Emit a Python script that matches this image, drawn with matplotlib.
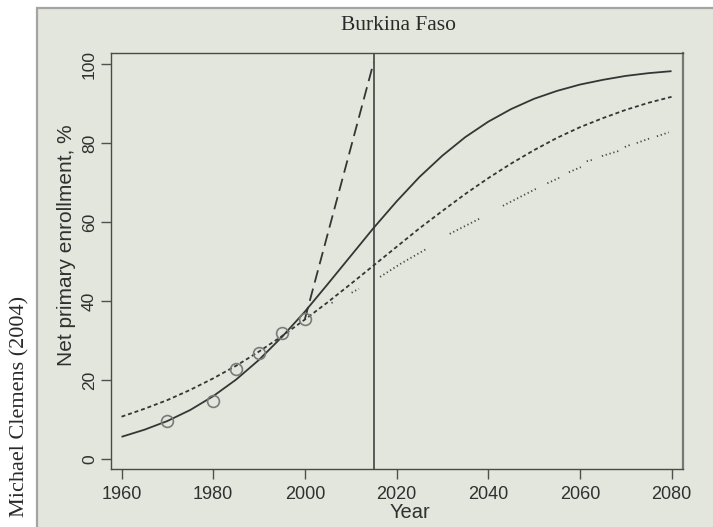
import numpy as np
import matplotlib
matplotlib.use("Agg")
import matplotlib.pyplot as plt
from matplotlib.patches import Rectangle

# ---------------------------------------------------------------------------
# Data
# ---------------------------------------------------------------------------
OBS_YEARS = [1970, 1980, 1985, 1990, 1995, 2000]
OBS_ENROLL = [9.7, 14.8, 23.0, 27.0, 31.9, 35.5]

CURVE_YEARS = [1960, 1965, 1970, 1975, 1980, 1985, 1990, 1995, 2000, 2005, 2010,
               2015, 2020, 2025, 2030, 2035, 2040, 2045, 2050, 2055, 2060, 2065,
               2070, 2075, 2080]
# solid curve
SOLID_ENROLL = [5.7, 7.5, 9.7, 12.5, 16.0, 20.2, 25.2, 31.0, 37.4, 44.4, 51.5,
                58.6, 65.3, 71.5, 76.9, 81.6, 85.5, 88.7, 91.3, 93.3, 94.9, 96.1,
                97.1, 97.8, 98.3]
# short-dash curve
DASH_ENROLL = [10.8, 12.8, 15.0, 17.6, 20.5, 23.7, 27.3, 31.2, 35.4, 39.8, 44.4,
               49.1, 53.8, 58.5, 62.9, 67.2, 71.2, 74.9, 78.3, 81.4, 84.1, 86.4,
               88.5, 90.3, 91.8]

# long-dash line (required pace to reach 100% by 2015)
TARGET_YEARS = [2000, 2015]
TARGET_ENROLL = [35.5, 100.5]

# dotted line, drawn in broken pieces as in the original (nan = gap)
DOT_YEARS = [2005.8, 2006.6, np.nan,
             2010.2, 2011.8, np.nan,
             2016.4, 2021.0, 2026.4, np.nan,
             2031.6, 2038.2, np.nan,
             2043.2, 2050.6, np.nan,
             2052.9, 2055.5, np.nan,
             2057.6, 2060.2, np.nan,
             2061.5, 2062.6, np.nan,
             2064.8, 2068.5, np.nan,
             2069.8, 2070.9, np.nan,
             2072.4, 2075.3, np.nan,
             2076.8, 2079.4]
DOT_ENROLL = [39.6, 40.0, np.nan,
              42.2, 43.2, np.nan,
              46.2, 49.6, 53.2, np.nan,
              57.1, 61.0, np.nan,
              64.2, 68.6, np.nan,
              69.9, 71.3, np.nan,
              72.7, 74.0, np.nan,
              75.5, 75.8, np.nan,
              76.8, 78.1, np.nan,
              79.1, 79.6, np.nan,
              80.1, 81.3, np.nan,
              81.8, 82.8]

MARK_YEAR = 2015
X_TICKS = [1960, 1980, 2000, 2020, 2040, 2060, 2080]
Y_TICKS = [0, 20, 40, 60, 80, 100]

PANEL_BG = "#e3e6dc"
INK = "#353535"

SANS = ["Liberation Sans", "DejaVu Sans"]
SERIF = ["Liberation Serif", "DejaVu Serif"]

W, H = 713, 527
fig = plt.figure(figsize=(W / 100, H / 100), dpi=100)
fig.patch.set_facecolor("white")

# grey panel with a border on top and left (right/bottom run off the canvas)
panel = Rectangle((37 / W, -0.05), 1.2, 1.05 - 8 / H, transform=fig.transFigure,
                  facecolor=PANEL_BG, edgecolor="#a4a4a4", linewidth=1.6, zorder=-10)
fig.patches.append(panel)

ax = fig.add_axes([111 / W, 1 - 469 / H, (683 - 111) / W, (469 - 53) / H], zorder=1)
ax.set_facecolor(PANEL_BG)

ax.plot(CURVE_YEARS, SOLID_ENROLL, color=INK, lw=1.3, solid_capstyle="butt")
ax.plot(CURVE_YEARS, DASH_ENROLL, color=INK, lw=1.3, dashes=(2.2, 1.6))
ax.plot(TARGET_YEARS, TARGET_ENROLL, color=INK, lw=1.3, dashes=(7, 3.5))
ax.plot(DOT_YEARS, DOT_ENROLL, color="#484848", lw=1.3, dashes=(0.7, 1.5))
ax.plot(OBS_YEARS, OBS_ENROLL, linestyle="none", marker="o", markersize=8.5,
        markerfacecolor="none", markeredgecolor="#7a7a7a", markeredgewidth=1.2)
ax.axvline(MARK_YEAR, color=INK, lw=1.1)

ax.set_xlim(1957.7, 2082.5)
ax.set_ylim(-2.45, 102.9)
ax.set_xticks(X_TICKS)
ax.set_yticks(Y_TICKS)
ax.set_xticklabels([str(t) for t in X_TICKS], fontfamily=SANS, fontsize=13, color="#303030")
ax.set_yticklabels([str(t) for t in Y_TICKS], fontfamily=SANS, fontsize=12.5, color="#303030",
                   rotation=90, va="center")
ax.tick_params(axis="x", direction="out", length=7, width=1, color="#505050", pad=5)
ax.tick_params(axis="y", direction="out", length=7, width=1, color="#505050", pad=3)

for side in ["left", "bottom", "top"]:
    ax.spines[side].set_color("#4a4a4a")
    ax.spines[side].set_linewidth(1.0)
ax.spines["right"].set_color("#777777")
ax.spines["right"].set_linewidth(1.6)

ax.set_xlabel("Year", fontfamily=SANS, fontsize=14.5, color="#303030", va="center")
ax.xaxis.set_label_coords((410 - 111) / 572, -(513 - 469) / 416)
ax.set_ylabel("Net primary enrollment, %", fontfamily=SANS, fontsize=15,
              color="#303030", va="center")
ax.yaxis.set_label_coords((67 - 111) / 572, (469 - 245) / 416)

fig.text(398 / W, 1 - 26 / H, "Burkina Faso", fontfamily=SERIF, fontsize=15.5,
         color="#2a2a2a", ha="center", va="center")
fig.text(20 / W, 1 - 406 / H, "Michael Clemens (2004)", fontfamily=SERIF, fontsize=16,
         color="#2a2a2a", ha="center", va="center", rotation=90)

fig.savefig("out.png", dpi=100, facecolor=fig.get_facecolor())
